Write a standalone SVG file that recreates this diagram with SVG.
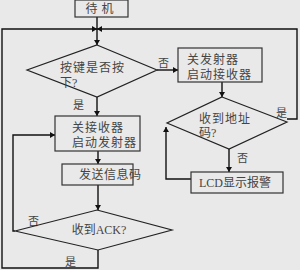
<svg xmlns="http://www.w3.org/2000/svg" width="300" height="270" viewBox="0 0 300 270">
<defs>
<marker id="ah" viewBox="0 0 10 10" refX="10" refY="5" markerWidth="5" markerHeight="6" markerUnits="userSpaceOnUse" orient="auto" preserveAspectRatio="none">
<path d="M0,0 L10,5 L0,10 z" fill="#111"/>
</marker>
<style>
.box{fill:none;stroke:#333;stroke-width:1.2}
.dia{fill:none;stroke:#222;stroke-width:1.2}
.ln{fill:none;stroke:#111;stroke-width:1.4}
.t{font-family:"Liberation Serif","Noto Sans CJK SC",serif;font-size:12px;fill:#444}
.l{font-family:"Liberation Serif","Noto Sans CJK SC",serif;font-size:11px;fill:#444}
</style>
</defs>
<rect width="300" height="270" fill="#e9e9e9"/>
<g id="connectors">
<path class="ln" d="M97,17 V45" marker-end="url(#ah)"/>
<path class="ln" d="M98,250 V268 H2 V29 H97" marker-end="url(#ah)"/>
<path class="ln" d="M287,119 H297 V29 H97" marker-end="url(#ah)"/>
<path class="ln" d="M157,70 H178" marker-end="url(#ah)"/>
<path class="ln" d="M97,97 V116" marker-end="url(#ah)"/>
<path class="ln" d="M222,82 V97" marker-end="url(#ah)"/>
<path class="ln" d="M229,149 V172" marker-end="url(#ah)"/>
<path class="ln" d="M191,179 H166 V127" marker-end="url(#ah)"/>
<path class="ln" d="M98,151 V164" marker-end="url(#ah)"/>
<path class="ln" d="M98,185 V210" marker-end="url(#ah)"/>
<path class="ln" d="M15,231 H13 V135 H55" marker-end="url(#ah)"/>
<text class="l" x="158" y="67">否</text>
<text class="l" x="73" y="109">是</text>
<text class="l" x="237" y="162">否</text>
<text class="l" x="276" y="117">是</text>
<text class="l" x="28" y="225">否</text>
<text class="l" x="65" y="266">是</text>
</g>
<g id="standby">
<rect class="box" x="75" y="0" width="53" height="17"/>
<text class="t" x="101.5" y="13" text-anchor="middle" letter-spacing="4">待机</text>
</g>
<g id="key-pressed">
<polygon class="dia" points="97,45 157,70 97,97 27,70"/>
<text class="t" x="60" y="72" letter-spacing="1">按键是否按</text>
<text class="t" x="60" y="87">下?</text>
</g>
<g id="close-tx-open-rx">
<rect class="box" x="178" y="48" width="84" height="34"/>
<text class="t" x="187" y="64" letter-spacing="1">关发射器</text>
<text class="t" x="187" y="79" letter-spacing="1">启动接收器</text>
</g>
<g id="got-address">
<polygon class="dia" points="222,97 287,122 229,149 167,123"/>
<text class="t" x="199" y="123" letter-spacing="1">收到地址</text>
<text class="t" x="199" y="137">码?</text>
</g>
<g id="lcd-alarm">
<rect class="box" x="191" y="172" width="92" height="21"/>
<text class="t" x="199" y="187">LCD显示报警</text>
</g>
<g id="close-rx-open-tx">
<rect class="box" x="55" y="116" width="85" height="35"/>
<text class="t" x="72" y="132" letter-spacing="1">关接收器</text>
<text class="t" x="72" y="147" letter-spacing="1">启动发射器</text>
</g>
<g id="send-code">
<rect class="box" x="62" y="164" width="71" height="21"/>
<text class="t" x="79" y="179" letter-spacing="0.5">发送信息码</text>
</g>
<g id="got-ack">
<polygon class="dia" points="97,210 172,230 98,250 15,231"/>
<text class="t" x="99" y="234" text-anchor="middle">收到ACK?</text>
</g>
</svg>
